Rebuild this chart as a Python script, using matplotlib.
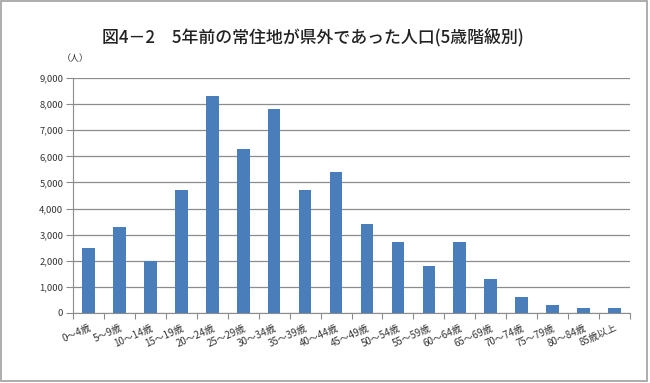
import matplotlib
matplotlib.use("Agg")
import matplotlib.pyplot as plt
from matplotlib.patches import Rectangle

plt.rcParams['font.family'] = ['Noto Sans CJK JP', 'DejaVu Sans']

categories = ["0～4歳", "5～9歳", "10～14歳", "15～19歳", "20～24歳", "25～29歳",
              "30～34歳", "35～39歳", "40～44歳", "45～49歳", "50～54歳", "55～59歳",
              "60～64歳", "65～69歳", "70～74歳", "75～79歳", "80～84歳", "85歳以上"]
values = [2500, 3300, 2000, 4700, 8300, 6300, 7800, 4700, 5400, 3400,
          2700, 1800, 2700, 1300, 600, 300, 200, 200]
yticks = list(range(0, 9001, 1000))
title = "図4－2　5年前の常住地が県外であった人口(5歳階級別)"

fig = plt.figure(figsize=(6.5, 3.83), dpi=100)
ax = fig.add_axes([0.1123, 0.1828, 0.857, 0.6135])

x = list(range(len(categories)))
ax.bar(x, values, width=0.41, color="#4a7ebb", zorder=3)
ax.set_xlim(-0.5, len(categories) - 0.5)
ax.set_ylim(0, 9000)
ax.set_yticks(yticks)
ax.set_yticklabels([f"{v:,}" for v in yticks], fontsize=6.8, color="#333333")
ax.yaxis.grid(True, color="#8c8c8c", linewidth=0.9, zorder=0)
ax.set_axisbelow(True)

ax.set_xticks([i - 0.5 for i in range(len(categories) + 1)], minor=False)
ax.set_xticklabels([])
ax.set_xticks(x, minor=True)
ax.set_xticklabels(categories, minor=True, rotation=24, ha="right",
                   rotation_mode="anchor", fontsize=7, color="#333333")
ax.tick_params(axis="x", which="major", length=4, color="#8c8c8c", direction="out")
ax.tick_params(axis="x", which="minor", length=0, pad=7)
ax.tick_params(axis="y", length=5, color="#8c8c8c", pad=2)

for s in ["top", "right"]:
    ax.spines[s].set_visible(False)
ax.spines["left"].set_color("#8c8c8c")
ax.spines["bottom"].set_color("#8c8c8c")

fig.text(0.115, 0.848, "（人）", fontsize=6.5, ha="center", va="center", color="#333333")
fig.text(0.481, 0.903, title, fontsize=12.2, ha="center", va="center",
         fontweight="medium", color="#222222")

fig.patches.append(Rectangle((0.002, 0.004), 0.994, 0.993, transform=fig.transFigure,
                             fill=False, edgecolor="#a0a0a0", linewidth=1.2))

fig.savefig("out.png", dpi=100)
